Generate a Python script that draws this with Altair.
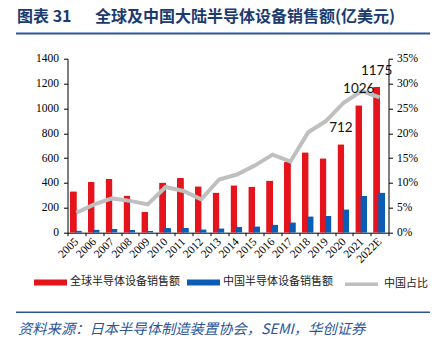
import altair as alt
import pandas as pd

years = ["2005", "2006", "2007", "2008", "2009", "2010", "2011", "2012", "2013",
         "2014", "2015", "2016", "2017", "2018", "2019", "2020", "2021", "2022E"]
global_sales = [334, 408, 435, 299, 166, 403, 440, 374, 323,
                381, 371, 419, 568, 648, 600, 712, 1026, 1175]
china_sales = [18, 26, 31, 24, 16, 37, 37, 27, 36,
               47, 52, 66, 84, 132, 135, 188, 296, 324]
china_share_pct = [4.0, 5.7, 6.9, 6.4, 5.7, 9.2, 8.4, 6.7, 10.7,
                   11.7, 13.5, 15.7, 14.3, 20.2, 22.5, 26.2, 28.5, 27.2]
value_labels = [""] * 15 + ["712", "1026", "1175"]

title_prefix = "图表 31"
title_main = "全球及中国大陆半导体设备销售额(亿美元)"
source_text = "资料来源：日本半导体制造装置协会，SEMI，华创证券"
series_global = "全球半导体设备销售额"
series_china = "中国半导体设备销售额"
series_share = "中国占比"

RED = "#E5141C"
BLUE = "#0A5CB5"
GREY = "#BFBFBF"
NAVY = "#1B3B6F"
SRC_BLUE = "#2B5597"

df = pd.DataFrame({
    "year": years,
    "global": global_sales,
    "china": china_sales,
    "share": [v / 100 for v in china_share_pct],
    "label": value_labels,
    "s_global": [series_global] * len(years),
    "s_china": [series_china] * len(years),
    "s_share": [series_share] * len(years),
})

W, H = 321, 174
LEFT, TOP = 67.5, 58.7

x_enc = alt.X(
    "year:N", sort=years,
    scale=alt.Scale(paddingInner=0, paddingOuter=0),
    axis=alt.Axis(title=None, labelAngle=-45, labelAlign="right", labelBaseline="middle",
                  tickBand="extent", tickSize=3, labelPadding=4, labelFontSize=11.5,
                  labelFont="Liberation Serif", labelColor="#000", domainColor="#000",
                  tickColor="#000", labelOverlap=False),
)

left_scale = alt.Scale(domain=[0, 1400], nice=False)

y_left = alt.Y(
    "global:Q",
    scale=left_scale,
    axis=alt.Axis(title=None, values=list(range(0, 1401, 200)), format="d", labelOverlap=False,
                  grid=False, tickSize=4, labelPadding=5, labelFont="Liberation Serif",
                  labelFontSize=11.5, labelColor="#000", domainColor="#000", tickColor="#000"),
)

color_scale = alt.Scale(domain=[series_global, series_china], range=[RED, BLUE])
shape_path = "M-1,-0.18H1V0.18H-1Z"
color_legend = alt.Legend(
    title=None, orient="none", direction="horizontal", legendX=34 - LEFT, legendY=207,
    symbolType=shape_path, symbolSize=1089, symbolStrokeWidth=0, labelOffset=3,
    columnPadding=7, labelFont="Noto Sans CJK SC", labelFontSize=11, labelColor="#222",
)

red_bars = alt.Chart(df).mark_bar(width=7, xOffset=-3, cornerRadiusTopLeft=1,
                                  cornerRadiusTopRight=1).encode(
    x=x_enc, y=y_left,
    color=alt.Color("s_global:N", scale=color_scale, legend=color_legend),
)
blue_bars = alt.Chart(df).mark_bar(width=7, xOffset=2, cornerRadiusTopLeft=1,
                                   cornerRadiusTopRight=1).encode(
    x=x_enc, y=alt.Y("china:Q", scale=left_scale, axis=None),
    color=alt.Color("s_china:N", scale=color_scale, legend=color_legend),
)

line = alt.Chart(df).mark_line(strokeWidth=4, strokeJoin="miter").encode(
    x=x_enc,
    y=alt.Y("share:Q", scale=alt.Scale(domain=[0, 0.35], nice=False),
            axis=alt.Axis(title=None, orient="right", format=".0%", values=[i / 100 for i in range(0, 36, 5)],
                          labelOverlap=False, grid=False, tickSize=4, labelPadding=4,
                          labelFont="Liberation Serif", labelFontSize=11.5, labelColor="#000",
                          domainColor="#000", tickColor="#000")),
    stroke=alt.Stroke("s_share:N",
                      scale=alt.Scale(domain=[series_share], range=[GREY]),
                      legend=alt.Legend(title=None, orient="none", direction="horizontal",
                                        legendX=343 - LEFT, legendY=207, symbolType="stroke",
                                        symbolSize=1089, symbolStrokeWidth=3.5, labelOffset=4,
                                        labelFont="Noto Sans CJK SC", labelFontSize=11,
                                        labelColor="#222")),
)

labels = alt.Chart(df).transform_filter("datum.label != ''").mark_text(
    font="Lato", fontSize=13.5, dy=-16, xOffset=-3, color="#111"
).encode(x=x_enc, y=alt.Y("global:Q", scale=left_scale, axis=None), text="label:N")

one = pd.DataFrame({"a": [0]})
title1 = alt.Chart(one).mark_text(align="left", baseline="middle", font="Noto Sans CJK SC",
                                  fontWeight="bold", fontSize=16, color=NAVY).encode(
    x=alt.value(17 - LEFT), y=alt.value(17 - TOP), text=alt.value(title_prefix))
title2 = alt.Chart(one).mark_text(align="left", baseline="middle", font="Noto Sans CJK SC",
                                  fontWeight="bold", fontSize=16, color=NAVY).encode(
    x=alt.value(95 - LEFT), y=alt.value(17 - TOP), text=alt.value(title_main))
top_rule = alt.Chart(one).mark_rule(strokeWidth=2, color=SRC_BLUE).encode(
    x=alt.value(16 - LEFT), x2=alt.value(430 - LEFT), y=alt.value(33.5 - TOP))
bottom_rule = alt.Chart(one).mark_rule(strokeWidth=1.5, color=SRC_BLUE).encode(
    x=alt.value(16 - LEFT), x2=alt.value(430 - LEFT), y=alt.value(312.3 - TOP))
source = alt.Chart(one).mark_text(align="left", baseline="middle", font="Noto Sans CJK SC",
                                  fontStyle="italic", fontSize=14.3, color=SRC_BLUE).encode(
    x=alt.value(18 - LEFT), y=alt.value(330 - TOP), text=alt.value(source_text))

chart = alt.layer(
    red_bars, blue_bars, line, labels, title1, title2, top_rule, bottom_rule, source
).resolve_scale(y="independent").properties(
    width=W, height=H,
    autosize=alt.AutoSizeParams(type="none"),
    padding={"left": LEFT, "top": TOP, "right": 437 - LEFT - W, "bottom": 339 - TOP - H},
    background="white",
).configure_view(stroke=None)

chart.save("out.html", embed_options={"renderer": "svg", "actions": False})
